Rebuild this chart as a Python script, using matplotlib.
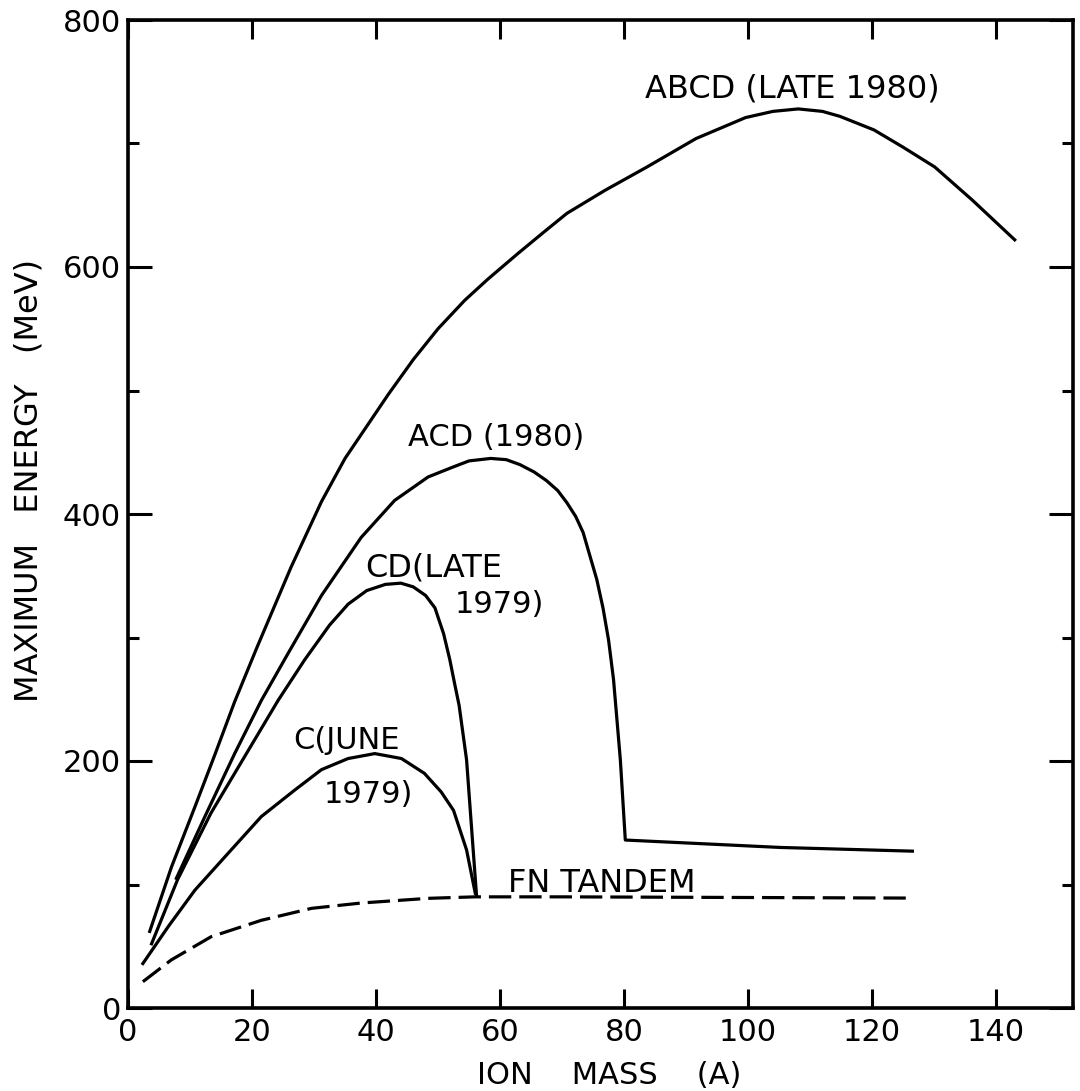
import numpy as np
import matplotlib.pyplot as plt

# Data (ion mass A, max energy MeV)
abcd_x = [3.5, 7, 10.8, 14, 17.2, 20.8, 26.3, 31.2, 35, 38.5, 42, 46, 50, 54.3, 58, 62.9, 67, 70.8,
          76.9, 83.7, 91.6, 99.6, 104, 108.1, 112, 114.8, 120.3, 125, 130.1, 136.2, 143]
abcd_y = [62, 114, 163, 205, 248, 292, 357, 410, 445, 471, 497, 525, 550, 573, 590, 611, 628, 643.5,
          662, 681, 704, 721, 726, 728, 726, 722, 711, 697, 681, 654, 622]

acd_x = [7.8, 12.4, 17.2, 21.5, 25.8, 31.2, 37.6, 43, 48.4, 52.4, 55, 58.5, 61, 63.2, 65.5, 67.5,
         69.3, 70.8, 72.2, 73.4, 74.5, 75.6, 76.6, 77.5, 78.3, 79.4, 80.2, 105.2, 126.5]
acd_y = [105, 155, 206, 249, 287, 334, 381, 411, 430, 438, 443, 445, 444, 440, 434, 427,
         419, 409, 398, 385, 366, 347, 324, 298, 266, 201, 136, 130, 127]

cd_x = [3.8, 8, 13.4, 18.8, 24.2, 28.5, 32.5, 35.5, 38.5, 41.5, 44, 46, 48, 49.5, 50.9, 51.9,
        52.7, 53.4, 54.6, 56.2]
cd_y = [52, 104, 158, 203.5, 249, 282, 310, 327, 338, 343, 344, 341, 334, 324, 303, 282,
        262, 245, 201, 91.5]

c_x = [2.4, 6.5, 10.8, 16.1, 21.5, 26.9, 31.2, 35.5, 39.8, 44.1, 47.8, 50.5, 52.5, 54.6, 56]
c_y = [36, 66, 95.5, 125, 155, 176.5, 193, 202, 206, 202, 190, 175, 160, 128, 93]

fn_x = [2.4, 7, 13.4, 21.5, 29.6, 37.6, 48.4, 56, 70, 126.5]
fn_y = [21.3, 39, 57.7, 71, 80.7, 85, 88.8, 90, 90, 89]

xticks = [0, 20, 40, 60, 80, 100, 120, 140]
yticks = [0, 200, 400, 600, 800]

plt.rcParams['font.family'] = 'DejaVu Sans'

fig = plt.figure(figsize=(10.8, 10.91), dpi=100)
ax = fig.add_axes([128/1080, 83/1091, 945/1080, 988/1091])

lw = 2.3
ax.plot(abcd_x, abcd_y, 'k-', lw=lw, solid_joinstyle='round')
ax.plot(acd_x, acd_y, 'k-', lw=lw, solid_joinstyle='round')
ax.plot(cd_x, cd_y, 'k-', lw=lw, solid_joinstyle='round')
ax.plot(c_x, c_y, 'k-', lw=lw, solid_joinstyle='round')
ax.plot(fn_x, fn_y, 'k-', lw=lw, dashes=(7, 2.5))

ax.set_xlim(0, 152.4)
ax.set_ylim(0, 800)
ax.set_xticks(xticks)
ax.set_xticklabels([str(t) for t in xticks])
ax.set_yticks(yticks)
ax.set_yticklabels([str(t) for t in yticks])
ax.set_yticks([100, 300, 500, 700], minor=True)

ax.tick_params(axis='x', which='major', direction='in', length=14, width=2.2,
               top=True, labelsize=22, pad=7)
ax.tick_params(axis='y', which='major', direction='in', length=17, width=2.2,
               right=True, labelsize=22, pad=5)
ax.tick_params(axis='y', which='minor', direction='in', length=8, width=2.2, right=True)
for s in ax.spines.values():
    s.set_linewidth(2.6)

# curve labels
fs = 22
ax.text(83.4, 737, 'ABCD (LATE 1980)', fontsize=23, ha='left', va='baseline')
ax.text(45.2, 455, 'ACD (1980)', fontsize=fs, ha='left', va='baseline')
ax.text(38.2, 349, 'CD(LATE', fontsize=23, ha='left', va='baseline')
ax.text(52.7, 320, '1979)', fontsize=fs, ha='left', va='baseline')
ax.text(26.6, 210, 'C(JUNE', fontsize=fs, ha='left', va='baseline')
ax.text(31.5, 166, '1979)', fontsize=fs, ha='left', va='baseline')
ax.text(61.3, 94, 'FN TANDEM', fontsize=23, ha='left', va='baseline')

# axis titles
fig.text(477/1080, 1 - 1084/1091, 'ION    MASS    (A)', fontsize=22, ha='left', va='baseline')
fig.text(29/1080, 1 - 480/1091, 'MAXIMUM   ENERGY   (MeV)', fontsize=23,
         rotation=90, ha='center', va='center')

plt.savefig('out.png', dpi=100)
